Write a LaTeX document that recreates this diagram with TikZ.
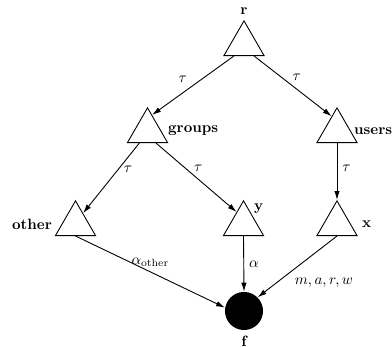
\documentclass[tikz,border=0pt]{standalone}
\usepackage{amsmath}
\usetikzlibrary{arrows.meta, shapes.geometric}

\begin{document}
\begin{tikzpicture}[
    x=0.67pt, y=0.67pt,
    tri/.style={draw, line width=0.6pt, regular polygon, regular polygon sides=3,
      minimum size=31pt, inner sep=0pt},
    sink/.style={circle, fill=black, minimum size=25.5pt, inner sep=0pt},
    lab/.style={font=\bfseries},
    arr/.style={line width=0.6pt, -{Latex[length=6pt, width=3.6pt]}}
  ]
  \useasboundingbox (0,0) rectangle (392,347);

  % tree nodes
  \node[tri, label={[lab]above:r}] (r) at (244,303) {};
  \node[tri, label={[lab, label distance=1pt]right:groups}] (groups) at (147.5,216) {};
  \node[tri, label={[lab, inner sep=1pt, label distance=1pt]right:users}] (users) at (337,216) {};
  \node[tri, label={[lab, label distance=3pt]left:other}] (other) at (75.5,123) {};
  \node[tri, label={[lab, inner sep=1pt]above right:y}] (y) at (243.5,123) {};
  \node[tri, label={[lab, label distance=4pt]right:x}] (x) at (337,123) {};
  \node[sink, label={[lab]below:f}] (f) at (244,36) {};

  % edges
  \draw[arr] (r.-130) -- node[pos=0.4, left=6pt] {$\tau$} (groups.74);
  \draw[arr] (r.-50) -- node[pos=0.35, right=4pt] {$\tau$} (users.110);
  \draw[arr] (groups.-124) -- node[pos=0.37, right] {$\tau$} (other.55);
  \draw[arr] (groups.-55) -- node[pos=0.37, right=2pt] {$\tau$} (y.120);
  \draw[arr] (users.south) -- node[pos=0.45, right] {$\tau$} (x.north);
  \draw[arr] (other.south) -- node[pos=0.5, above] {$\alpha_{\text{other}}$} (f.170);
  \draw[arr] (y.south) -- node[pos=0.5, right] {$\alpha$} (f.north);
  \draw[arr] (x.south) -- node[pos=0.6, below right] {$m,a,r,w$} (f.45);
\end{tikzpicture}
\end{document}
